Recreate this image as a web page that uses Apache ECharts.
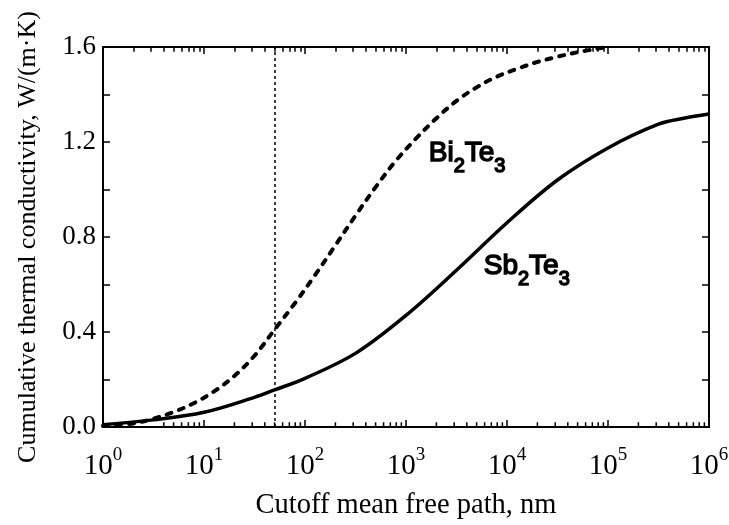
<!DOCTYPE html>
<html>
<head>
<meta charset="utf-8">
<script src="https://cdn.jsdelivr.net/npm/echarts@6/dist/echarts.min.js"></script>
<style>html,body{margin:0;padding:0;background:#fff}#c{width:729px;height:525px}</style>
</head>
<body>
<div id="c"></div>
<script>
// ---- data ----
var bi2te3X = [1, 2, 3.16, 5, 7.9, 12.6, 20, 31.6, 50, 79, 126, 200, 316, 500, 790, 1260, 2000, 3160, 5000, 7900, 12600, 20000, 31600, 50000, 89000];
var bi2te3Y = [0.005, 0.015, 0.035, 0.063, 0.10, 0.15, 0.215, 0.30, 0.41, 0.52, 0.64, 0.765, 0.89, 1.01, 1.12, 1.215, 1.30, 1.373, 1.43, 1.475, 1.508, 1.537, 1.559, 1.578, 1.597];
var sb2te3X = [1, 3.16, 10, 31.6, 50, 100, 316, 1000, 3160, 10000, 31600, 100000, 316000, 562000, 1000000];
var sb2te3Y = [0.01, 0.03, 0.062, 0.125, 0.156, 0.205, 0.31, 0.47, 0.66, 0.86, 1.04, 1.175, 1.275, 1.30, 1.318];
var cutoffLine = 50;
var yTicks = [0, 0.4, 0.8, 1.2, 1.6];
var minorMantissa = [2, 3, 4, 5, 6, 7, 8, 9];
var decades = [1, 10, 100, 1000, 10000, 100000];

function zip(a, b) { return a.map(function (v, i) { return [v, b[i]]; }); }
var minorTicks = [];
decades.forEach(function (d) { minorMantissa.forEach(function (m) { minorTicks.push(m * d); }); });

var serif = '"Liberation Serif", "Times New Roman", serif';
var sans = '"Liberation Sans", Arial, sans-serif';

var yMin = 0, yMax = 1.6, minorLen = 0.02;
var tickStyle = {type: 'solid', width: 1.5, color: '#000'};
var markLines = [[{coord: [cutoffLine, yMin]}, {coord: [cutoffLine, yMax]}]];
minorTicks.forEach(function (v) {
  markLines.push([{coord: [v, yMax], lineStyle: tickStyle}, {coord: [v, yMax - minorLen]}]);
});

var chart = echarts.init(document.getElementById('c'), null, {renderer: 'canvas'});
var axisLine = {show: true, onZero: false, lineStyle: {color: '#000', width: 2}};
var tick = {show: true, inside: true, length: 7, lineStyle: {color: '#000', width: 1.5}};
var labelRich = {
  m: {fontFamily: sans, fontSize: 28, fill: '#000', lineHeight: 46},
  s: {fontFamily: sans, fontSize: 20, fill: '#000', verticalAlign: 'bottom', lineHeight: 20}
};
var option = {
  animation: false,
  backgroundColor: '#fff',
  grid: {left: 103, right: 20, top: 47, bottom: 98, containLabel: false, outerBoundsMode: 'none'},
  xAxis: [{
    type: 'log', logBase: 10, min: 1, max: 1000000, position: 'bottom',
    axisLine: axisLine, axisTick: tick, splitLine: {show: false},
    axisLabel: {
      margin: 19,
      formatter: function (v) { return '{b|10}{s|' + Math.round(Math.log10(v)) + '}'; },
      rich: {
        b: {fontFamily: serif, fontSize: 29, color: '#000', lineHeight: 40},
        s: {fontFamily: serif, fontSize: 19, color: '#000', verticalAlign: 'top', lineHeight: 20}
      }
    },
    name: 'Cutoff mean free path, nm', nameLocation: 'middle', nameGap: 64,
    nameTextStyle: {fontFamily: serif, fontSize: 28.5, color: '#000'}
  }, {
    type: 'log', logBase: 10, min: 1, max: 1000000, position: 'top',
    axisLine: axisLine, axisTick: tick,
    axisLabel: {show: false}, splitLine: {show: false}
  }],
  yAxis: [{
    type: 'value', min: yMin, max: yMax, interval: 0.2, position: 'left',
    axisLine: axisLine, axisTick: tick, splitLine: {show: false},
    axisLabel: {
      margin: 7, fontFamily: serif, fontSize: 27, color: '#000',
      formatter: function (v) {
        for (var i = 0; i < yTicks.length; i++) if (Math.abs(yTicks[i] - v) < 1e-6) return yTicks[i].toFixed(1);
        return '';
      }
    },
    name: 'Cumulative thermal conductivity, W/(m\u00b7K)', nameLocation: 'middle', nameGap: 62,
    nameTextStyle: {fontFamily: serif, fontSize: 26, color: '#000'}
  }, {
    type: 'value', min: yMin, max: yMax, interval: 0.2, position: 'right',
    axisLine: axisLine, axisTick: tick,
    axisLabel: {show: false}, splitLine: {show: false}
  }],
  series: [{
    name: 'Sb2Te3', type: 'line', smooth: 0.35, showSymbol: false, symbol: 'none',
    data: zip(sb2te3X, sb2te3Y),
    lineStyle: {color: '#000', width: 3.5},
    markLine: {
      silent: true, symbol: 'none', label: {show: false}, precision: 6, z: 10,
      lineStyle: {color: '#000', width: 1.5, type: [3, 3]},
      data: markLines
    }
  }, {
    name: 'Bi2Te3', type: 'line', smooth: 0.35, showSymbol: false, symbol: 'none',
    data: zip(bi2te3X, bi2te3Y),
    lineStyle: {color: '#000', width: 4, type: [5, 8], cap: 'round'}
  }],
  graphic: [{
    type: 'text', left: 428, top: 139,
    style: {text: '{m|Bi}{s|2}{m|Te}{s|3}', rich: labelRich}
  }, {
    type: 'text', left: 483, top: 252,
    style: {text: '{m|Sb}{s|2}{m|Te}{s|3}', rich: labelRich}
  }]
};
chart.setOption(option);

// bottom minor ticks: positions taken from the chart's own log scale
var bottomTicks = minorTicks.map(function (v) {
  var p = chart.convertToPixel({xAxisIndex: 0, yAxisIndex: 0}, [v, yMin]);
  var q = chart.convertToPixel({xAxisIndex: 0, yAxisIndex: 0}, [v, yMin + minorLen]);
  return {type: 'line', z: 100, silent: true,
    shape: {x1: p[0], y1: p[1] - 1, x2: q[0], y2: q[1]},
    style: {stroke: '#000', lineWidth: 1.5}};
});
chart.setOption({graphic: [{id: 'bottomMinor', type: 'group', z: 100, children: bottomTicks}]});
</script>
</body>
</html>
